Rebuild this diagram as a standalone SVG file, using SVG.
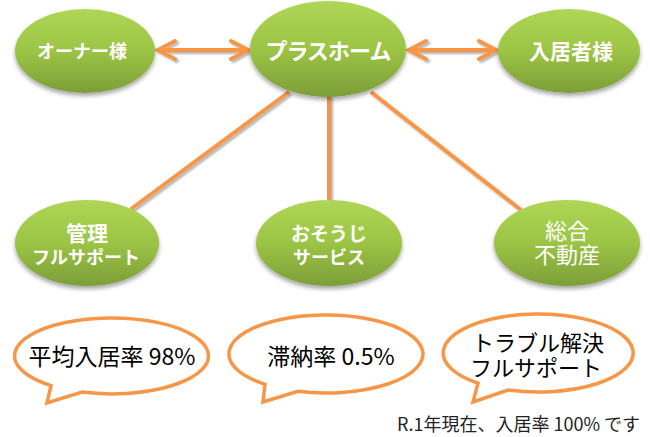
<svg xmlns="http://www.w3.org/2000/svg" width="650" height="437" viewBox="0 0 650 437">
<defs>
<linearGradient id="g" x1="0" y1="0" x2="0" y2="1">
<stop offset="0" stop-color="#AFD655"/>
<stop offset="0.5" stop-color="#9CC445"/>
<stop offset="1" stop-color="#7C9E38"/>
</linearGradient>
<filter id="sh" x="-20%" y="-20%" width="140%" height="150%">
<feDropShadow dx="0" dy="3" stdDeviation="2" flood-color="#000" flood-opacity="0.35"/>
</filter>
<filter id="lsh" x="-20%" y="-20%" width="140%" height="140%">
<feDropShadow dx="2" dy="2" stdDeviation="1" flood-color="#000" flood-opacity="0.3"/>
</filter>
<marker id="ah" markerUnits="userSpaceOnUse" viewBox="-22 -12 26 24" refX="0" refY="0" markerWidth="26" markerHeight="24" orient="auto-start-reverse">
<path d="M-17,-9 L0,0 L-17,9" fill="none" stroke="#F79646" stroke-width="4" stroke-linecap="round" stroke-linejoin="miter"/>
</marker>
</defs>
<style>
.node{fill:url(#g);filter:url(#sh)}
.conn{stroke:#F79646;stroke-width:4;fill:none}
.lbl{font-family:"Noto Sans CJK JP","Noto Sans",sans-serif;fill:#fff;text-anchor:middle;font-weight:bold}
.lbln{font-family:"Noto Sans CJK JP","Noto Sans",sans-serif;fill:#fff;text-anchor:middle;font-weight:normal}
.bub{fill:#fff;stroke:#F79646;stroke-width:3.5;stroke-linejoin:miter}
.bt{font-family:"Noto Sans CJK JP","Noto Sans",sans-serif;fill:#000;text-anchor:middle}
.note{font-family:"Noto Sans CJK JP","Noto Sans",sans-serif;fill:#222;font-size:18px;text-anchor:end}
</style>
<g id="connectors" filter="url(#lsh)">
<line class="conn" x1="158" y1="50" x2="248" y2="50" marker-start="url(#ah)" marker-end="url(#ah)"/>
<line class="conn" x1="409" y1="50" x2="496" y2="50" marker-start="url(#ah)" marker-end="url(#ah)"/>
<line class="conn" x1="289" y1="92" x2="131" y2="209"/>
<line class="conn" x1="329" y1="96" x2="329" y2="202"/>
<line class="conn" x1="371" y1="92" x2="521" y2="210"/>
</g>
<g id="owner">
<ellipse class="node" cx="85" cy="51" rx="70" ry="42"/>
<text class="lbl" x="82" y="58" font-size="18">オーナー様</text>
</g>
<g id="plushome">
<ellipse class="node" cx="328" cy="49" rx="78" ry="48"/>
<text class="lbl" x="328" y="59" font-size="22" letter-spacing="-1">プラスホーム</text>
</g>
<g id="resident">
<ellipse class="node" cx="569" cy="51" rx="71" ry="42"/>
<text class="lbl" x="571" y="59" font-size="21">入居者様</text>
</g>
<g id="kanri">
<ellipse class="node" cx="87" cy="243" rx="72" ry="43"/>
<text class="lbl" font-size="18"><tspan x="87" y="241" font-size="21">管理</tspan><tspan x="86" y="264">フルサポート</tspan></text>
</g>
<g id="osouji">
<ellipse class="node" cx="329" cy="243" rx="73" ry="43"/>
<text class="lbl" font-size="18"><tspan x="329" y="241" font-size="19">おそうじ</tspan><tspan x="329" y="264">サービス</tspan></text>
</g>
<g id="sougou">
<ellipse class="node" cx="567" cy="243" rx="73" ry="43"/>
<text class="lbln" font-size="22"><tspan x="567" y="239">総合</tspan><tspan x="567" y="263">不動産</tspan></text>
</g>
<g id="bubble1">
<path class="bub" d="M51,385.6 A97,38 0 1,1 82,392.1 L47,403 Z"/>
<text class="bt" x="112" y="365" font-size="23">平均入居率 98%</text>
</g>
<g id="bubble2">
<path class="bub" d="M265,384.3 A97,39 0 1,1 298,391.3 L263,402 Z"/>
<text class="bt" x="331" y="365" font-size="23">滞納率 0.5%</text>
</g>
<g id="bubble3">
<path class="bub" d="M478,383.2 A95,39 0 1,1 508,390 L473,402 Z"/>
<text class="bt" font-size="22"><tspan x="538" y="351">トラブル解決</tspan><tspan x="536" y="376">フルサポート</tspan></text>
</g>
<text class="note" x="640" y="431">R.1年現在、入居率 100% です</text>
</svg>
